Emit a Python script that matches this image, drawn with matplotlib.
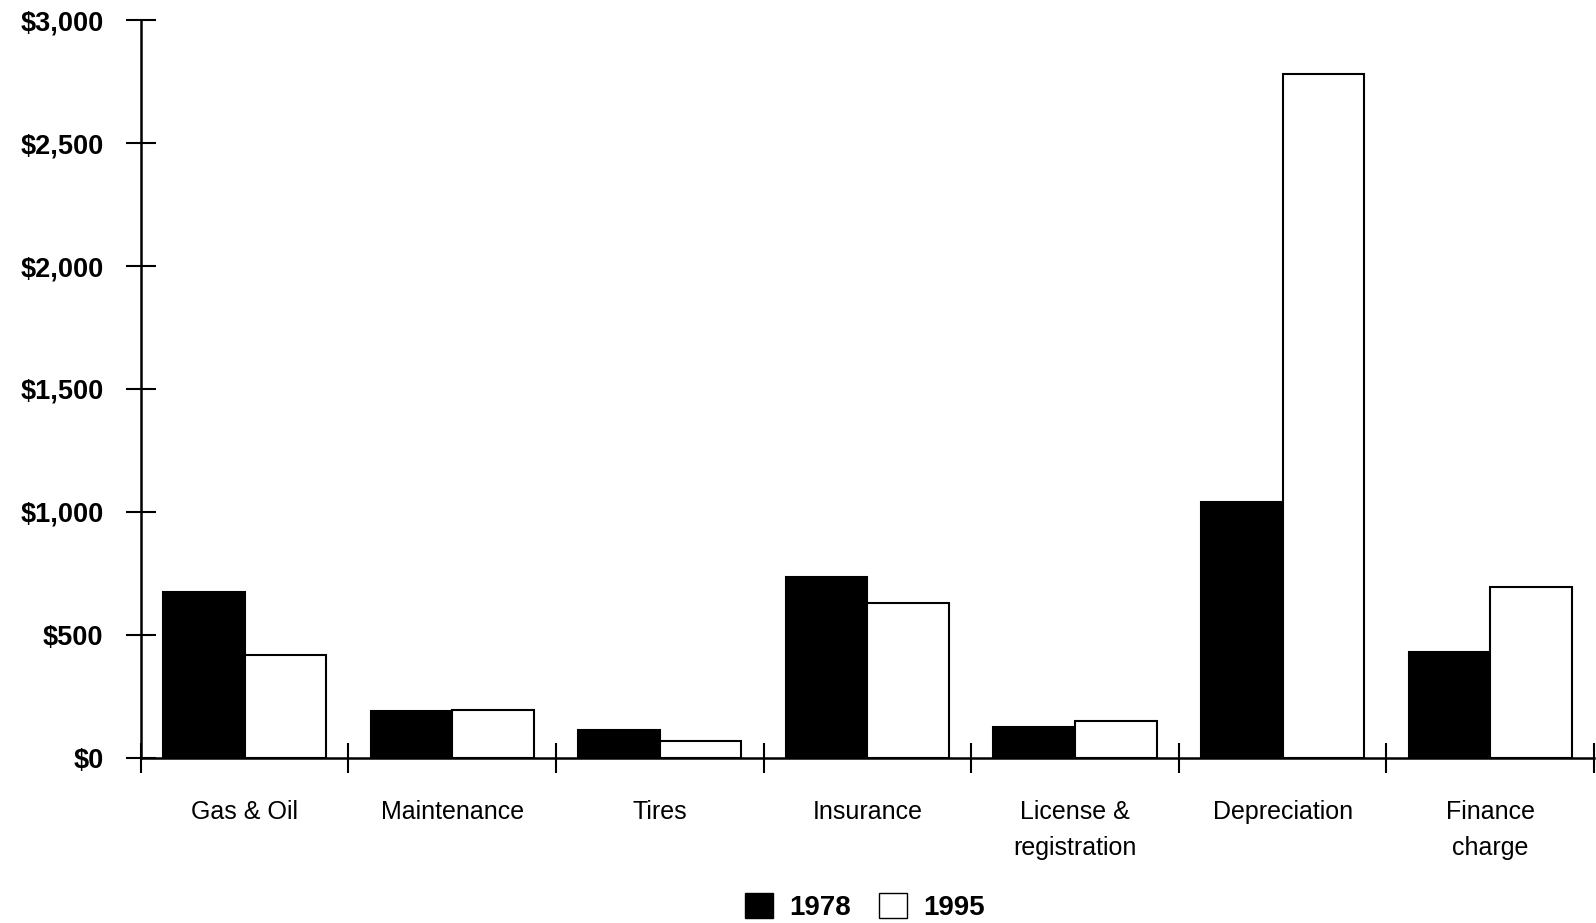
import numpy as np
import matplotlib
matplotlib.use("Agg")
import matplotlib.pyplot as plt
from matplotlib.patches import Patch
from matplotlib.ticker import FuncFormatter

plt.rcParams['font.family'] = ['Liberation Sans', 'DejaVu Sans']

# Annual car operating costs by category
categories = ['Gas & Oil', 'Maintenance', 'Tires', 'Insurance',
              'License &\nregistration', 'Depreciation', 'Finance\ncharge']
cost_1978 = [675, 190, 115, 735, 125, 1040, 430]
cost_1995 = [420, 195, 70, 630, 150, 2780, 695]
years = ['1978', '1995']
y_ticks = [0, 500, 1000, 1500, 2000, 2500, 3000]

fig = plt.figure(figsize=(15.96, 9.23), dpi=100)
ax = fig.add_axes([0.0883, 0.1788, 0.9104, 0.7995])

x = np.arange(len(categories))
w = 0.393
ax.bar(x - w / 2, cost_1978, width=w, color='black', edgecolor='black', linewidth=1.5)
ax.bar(x + w / 2, cost_1995, width=w, color='white', edgecolor='black', linewidth=1.5)

ax.set_xlim(-0.5, len(categories) - 0.5)
ax.set_ylim(0, 3000)

# major x ticks mark the category boundaries, minor ones carry the labels
ax.set_xticks(np.arange(len(categories) + 1) - 0.5)
ax.set_xticklabels([])
ax.set_xticks(x, minor=True)
ax.set_xticklabels(categories, minor=True, fontsize=18, linespacing=1.65)
ax.tick_params(axis='x', which='major', direction='inout', length=22, width=1.5)
ax.tick_params(axis='x', which='minor', length=0, pad=30)

ax.set_yticks(y_ticks)
ax.yaxis.set_major_formatter(FuncFormatter(lambda v, p: '$0' if v == 0 else f'${v:,.0f}'))
ax.tick_params(axis='y', direction='inout', length=22, width=1.5, pad=16, labelsize=19.5)
for lbl in ax.get_yticklabels():
    lbl.set_fontweight('bold')

for side in ['top', 'right']:
    ax.spines[side].set_visible(False)
for side in ['left', 'bottom']:
    ax.spines[side].set_linewidth(1.8)

handles = [Patch(facecolor='black', edgecolor='black', label=years[0]),
           Patch(facecolor='white', edgecolor='black', label=years[1])]
fig.legend(handles=handles, loc='center', bbox_to_anchor=(0.542, 0.017), ncol=2,
           frameon=False, prop={'size': 20, 'weight': 'bold'},
           handlelength=1.0, handleheight=1.0, handletextpad=0.6, columnspacing=1.0)

fig.savefig('out.png', dpi=100)
